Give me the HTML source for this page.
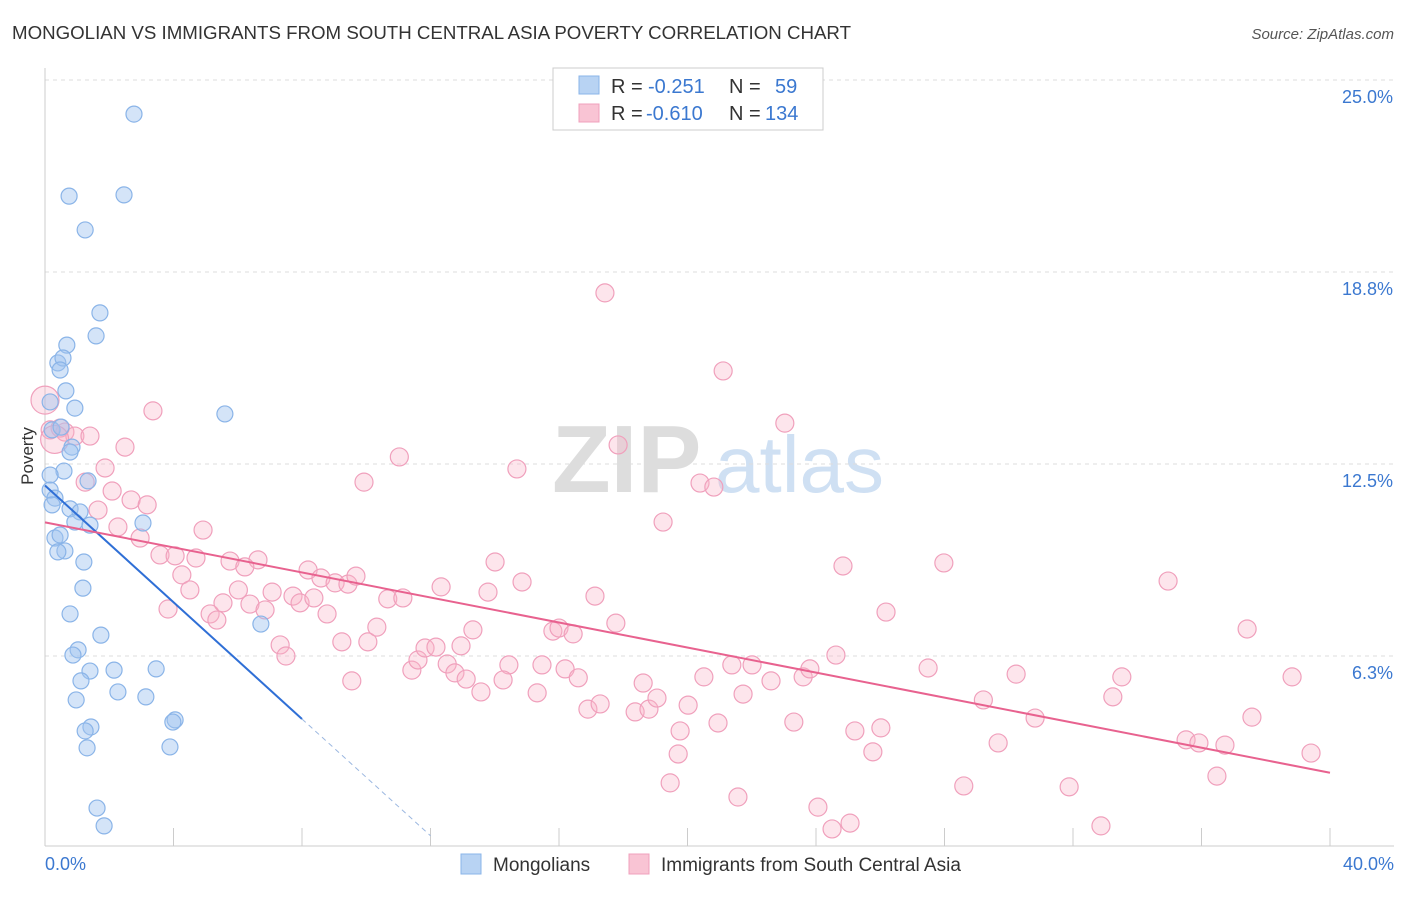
<!DOCTYPE html>
<html><head><meta charset="utf-8"><style>
body{margin:0;background:#fff;font-family:"Liberation Sans",sans-serif;}
svg text{font-family:"Liberation Sans",sans-serif;}
</style></head><body>
<svg id="chart" width="1406" height="892" viewBox="0 0 1406 892" xmlns="http://www.w3.org/2000/svg">
<text x="12" y="39" font-size="18.7" fill="#333">MONGOLIAN VS IMMIGRANTS FROM SOUTH CENTRAL ASIA POVERTY CORRELATION CHART</text>
<text x="1394" y="39" font-size="15" fill="#555" text-anchor="end" font-style="italic">Source: ZipAtlas.com</text>
<g>
<text x="552" y="492" font-size="96" fill="#ddd" font-family="Liberation Serif" font-weight="bold">ZIP</text>
<text x="715" y="492" font-size="80" fill="#cfe0f3">atlas</text>
</g>
<g id="grid"></g>
<g id="axes"></g>
<g id="pink"></g>
<g id="blue"></g>
<g id="trends"></g>
<g font-size="20">
<rect x="553" y="68" width="270" height="62" fill="#fff" stroke="#ccc"/>
<rect x="579" y="76" width="20" height="18" fill="#b8d3f3" stroke="#8ab4e8"/>
<rect x="579" y="104" width="20" height="18" fill="#f9c4d4" stroke="#f0a0bc"/>
<text x="611" y="93" fill="#333">R =</text>
<text x="648" y="93" fill="#3b78d0">-0.251</text>
<text x="729" y="93" fill="#333">N =</text>
<text x="775" y="93" fill="#3b78d0">59</text>
<text x="611" y="120" fill="#333">R =</text>
<text x="646" y="120" fill="#3b78d0">-0.610</text>
<text x="729" y="120" fill="#333">N =</text>
<text x="765" y="120" fill="#3b78d0">134</text>
</g>
<g>
<rect x="461" y="854" width="20" height="20" fill="#b8d3f3" stroke="#8ab4e8"/>
<text x="493" y="871" font-size="19" fill="#333">Mongolians</text>
<rect x="629" y="854" width="20" height="20" fill="#f9c4d4" stroke="#f0a0bc"/>
<text x="661" y="871" font-size="19" fill="#333">Immigrants from South Central Asia</text>
</g>
<text transform="translate(33,456) rotate(-90)" font-size="17" fill="#333" text-anchor="middle">Poverty</text>
</svg>
<script>
const yTicks=[25,18.75,12.5,6.25];
const yTickLabels=["25.0%","18.8%","12.5%","6.3%"];
const xTicks=[0,4,8,12,16,20,24,28,32,36,40];
const blueX=[2.77,0.75,2.46,1.25,1.71,1.59,0.68,0.40,0.56,0.47,0.65,0.93,5.60,0.16,0.22,0.50,0.84,0.78,0.59,0.16,1.34,0.16,0.31,0.22,0.78,1.09,0.93,1.40,3.05,0.31,0.47,0.62,0.40,1.21,1.18,0.78,1.74,6.72,1.03,0.87,1.40,2.15,3.46,1.12,2.27,0.97,3.14,1.43,1.25,4.05,3.98,1.31,3.89,1.62,1.84];
const blueY=[23.89,21.22,21.26,20.12,17.42,16.67,16.37,15.79,15.95,15.56,14.88,14.32,14.13,14.52,13.61,13.70,13.05,12.89,12.27,12.14,11.95,11.65,11.39,11.17,11.04,10.94,10.61,10.51,10.58,10.09,10.19,9.67,9.64,9.31,8.46,7.62,6.93,7.29,6.45,6.28,5.76,5.79,5.83,5.44,5.08,4.82,4.92,3.94,3.81,4.17,4.10,3.26,3.29,1.30,0.72];
const pinkX=[0,0.16,0.62,0.93,1.40,0.47,3.36,2.49,1.25,1.87,2.09,1.65,2.68,3.18,2.27,2.96,4.92,3.58,4.05,4.70,5.76,6.63,6.22,4.26,4.51,3.83,5.14,5.35,5.54,6.02,6.38,6.85,7.07,7.72,7.94,8.19,8.37,8.59,9.03,9.43,9.68,8.78,7.32,7.50,9.24,10.05,10.33,10.67,11.14,9.93,11.03,9.55,11.42,11.61,11.83,12.17,12.52,12.76,13.11,13.57,12.95,13.32,12.33,13.79,14.01,14.85,14.69,14.44,14.26,15.32,15.47,15.81,16.00,16.44,16.19,16.60,17.12,17.77,17.43,17.84,16.90,17.28,18.37,18.62,18.80,19.05,19.24,19.77,19.71,19.46,20.02,20.39,20.82,21.11,20.51,20.95,21.38,21.73,22.01,21.57,22.60,23.03,23.31,23.60,23.81,24.62,24.84,25.21,25.77,26.02,24.06,24.50,25.06,26.18,27.49,27.98,28.60,29.21,29.67,30.23,30.82,31.88,32.87,33.24,33.52,34.96,35.52,35.92,36.73,36.48,37.42,37.57,38.82,39.41,0.3];
const pinkY=[14.58,13.61,13.54,13.41,13.41,13.67,14.23,13.05,11.91,12.37,11.62,11.00,11.33,11.17,10.45,10.09,10.35,9.54,9.51,9.44,9.34,9.38,9.15,8.89,8.40,7.78,7.62,7.42,7.98,8.40,7.94,7.75,8.33,8.20,7.98,9.05,8.14,8.79,8.63,8.59,8.85,7.62,6.61,6.25,6.71,6.71,7.19,8.11,8.14,11.91,12.73,5.44,5.79,6.12,6.51,6.54,5.99,5.70,5.50,5.08,6.58,7.10,8.50,8.33,9.31,8.66,12.34,5.96,5.47,5.05,5.96,7.06,7.16,6.97,5.83,5.54,8.20,7.32,18.07,13.12,4.52,4.69,4.43,5.37,4.52,4.88,10.61,3.81,3.06,2.12,4.65,11.88,11.75,15.53,5.57,4.07,5.96,5.01,5.96,1.66,5.44,13.83,4.10,5.57,5.83,6.28,9.18,3.81,3.13,3.91,1.33,0.62,0.81,7.68,5.86,9.28,2.02,4.82,3.42,5.66,4.23,1.99,0.72,4.92,5.57,8.69,3.52,3.42,3.35,2.34,7.13,4.26,5.57,3.09,13.3];
const blueTrend=[0,11.8,8,4.2];
const blueTrendDashEnd=12;
const pinkTrend=[0,10.6,40,2.45];
const NS="http://www.w3.org/2000/svg";
const xs=v=>45+v*32.125, ys=v=>848-v*30.72;
function mk(tag,attrs,parent){const e=document.createElementNS(NS,tag);for(const k in attrs)e.setAttribute(k,attrs[k]);parent.appendChild(e);return e;}
const grid=document.getElementById('grid'),axes=document.getElementById('axes');
yTicks.forEach((t,i)=>{
 const l=mk('line',{x1:45,x2:1394,y1:ys(t),y2:ys(t),stroke:'#ddd','stroke-dasharray':'4,4'},grid);
 
 
 const tx=mk('text',{x:1393,y:ys(t)+23,'font-size':18,fill:'#3b78d0','text-anchor':'end'},axes);
 tx.textContent=yTickLabels[i];
 
 
});
const yl=mk('line',{x1:45,x2:45,y1:68,y2:846,stroke:'#ccc'},axes);


const xl=mk('line',{x1:45,x2:1394,y1:846,y2:846,stroke:'#ccc'},axes);


xTicks.forEach(t=>{const l=mk('line',{x1:xs(t),x2:xs(t),y1:828,y2:846,stroke:'#ccc'},axes);
 
 });
const x0=mk('text',{x:45,y:870,'font-size':18,fill:'#3b78d0'},axes);x0.textContent='0.0%';


const x1=mk('text',{x:1394,y:870,'font-size':18,fill:'#3b78d0','text-anchor':'end'},axes);x1.textContent='40.0%';


const pg=document.getElementById('pink');
pinkX.forEach((v,i)=>{const c=mk('circle',{cx:xs(v),cy:ys(pinkY[i]),r:(i==0||i==pinkX.length-1)?14:9,fill:'rgba(248,180,200,0.35)',stroke:'#f0a0bc','stroke-width':1.2},pg);
 
 });
const bg=document.getElementById('blue');
blueX.forEach((v,i)=>{const c=mk('circle',{cx:xs(v),cy:ys(blueY[i]),r:8,fill:'rgba(160,196,240,0.45)',stroke:'#8ab4e8','stroke-width':1.2},bg);
 
 });
const tg=document.getElementById('trends');
const slope=(blueTrend[3]-blueTrend[1])/(blueTrend[2]-blueTrend[0]);
const bt=mk('line',{x1:xs(blueTrend[0]),y1:ys(blueTrend[1]),x2:xs(blueTrend[2]),y2:ys(blueTrend[3]),stroke:'#2f6fd6','stroke-width':2},tg);


const bd=mk('line',{x1:xs(blueTrend[2]),y1:ys(blueTrend[3]),x2:xs(blueTrendDashEnd),y2:ys(blueTrend[1]+slope*blueTrendDashEnd),stroke:'#9bb7e0','stroke-width':1,'stroke-dasharray':'5,4'},tg);


const pt=mk('line',{x1:xs(pinkTrend[0]),y1:ys(pinkTrend[1]),x2:xs(pinkTrend[2]),y2:ys(pinkTrend[3]),stroke:'#e8628f','stroke-width':2},tg);


</script>
</body></html>
